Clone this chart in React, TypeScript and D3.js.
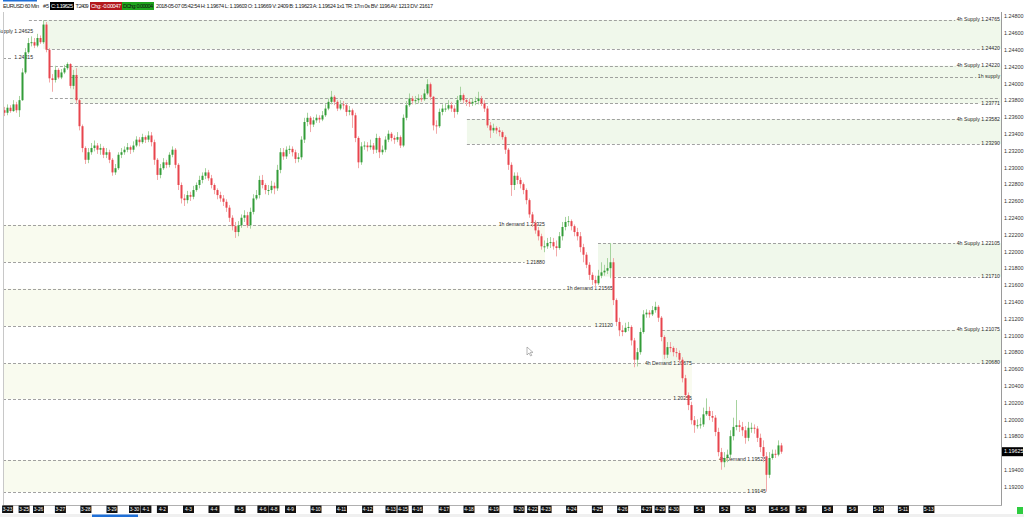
import React, { useEffect, useRef } from "react";
import * as d3 from "d3";

// ---------- DATA (EURUSD, 60 min, aggregated 3h candles) ----------
const firstOpen = 1.2369;
const closes = [
  1.2366, 1.2372, 1.2368, 1.2376, 1.2369, 1.2381, 1.2414, 1.2438, 1.2449, 1.2450,
  1.2446, 1.2455, 1.2450, 1.2471, 1.2441, 1.2407, 1.2405, 1.2417, 1.2408, 1.2414,
  1.2419, 1.2424, 1.2398, 1.2411, 1.2381, 1.2350, 1.2324, 1.2310, 1.2319, 1.2324,
  1.2327, 1.2322, 1.2324, 1.2316, 1.2319, 1.2310, 1.2295, 1.2300, 1.2316, 1.2319,
  1.2322, 1.2325, 1.2322, 1.2327, 1.2334, 1.2331, 1.2337, 1.2334, 1.2339, 1.2331,
  1.2310, 1.2292, 1.2300, 1.2307, 1.2304, 1.2316, 1.2322, 1.2304, 1.2280, 1.2264,
  1.2262, 1.2268, 1.2266, 1.2274, 1.2280, 1.2286, 1.2291, 1.2295, 1.2288, 1.2280,
  1.2274, 1.2268, 1.2264, 1.2260, 1.2253, 1.2241, 1.2231, 1.2224, 1.2232, 1.2241,
  1.2244, 1.2232, 1.2248, 1.2264, 1.2268, 1.2286, 1.2280, 1.2274, 1.2274, 1.2279,
  1.2276, 1.2298, 1.2319, 1.2314, 1.2322, 1.2323, 1.2319, 1.2311, 1.2313, 1.2334,
  1.2355, 1.2360, 1.2352, 1.2357, 1.2360, 1.2358, 1.2363, 1.2371, 1.2379, 1.2385,
  1.2379, 1.2371, 1.2376, 1.2375, 1.2367, 1.2369, 1.2363, 1.2336, 1.2307, 1.2326,
  1.2327, 1.2325, 1.2327, 1.2322, 1.2336, 1.2319, 1.2322, 1.2334, 1.2341, 1.2336,
  1.2334, 1.2337, 1.2327, 1.2360, 1.2375, 1.2383, 1.2380, 1.2381, 1.2383, 1.2382,
  1.2389, 1.2400, 1.2385, 1.2351, 1.2350, 1.2367, 1.2371, 1.2371, 1.2375, 1.2371,
  1.2367, 1.2381, 1.2387, 1.2381, 1.2379, 1.2377, 1.2379, 1.2380, 1.2383, 1.2377,
  1.2371, 1.2351, 1.2345, 1.2348, 1.2345, 1.2343, 1.2337, 1.2322, 1.2304, 1.2280,
  1.2291, 1.2286, 1.2281, 1.2274, 1.2262, 1.2245, 1.2235, 1.2226, 1.2219, 1.2207,
  1.2207, 1.2211, 1.2212, 1.2207, 1.2205, 1.2219, 1.2230, 1.2236, 1.2237, 1.2231,
  1.2224, 1.2219, 1.2206, 1.2197, 1.2185, 1.2173, 1.2167, 1.2163, 1.2172, 1.2176,
  1.2178, 1.2181, 1.2188, 1.2143, 1.2117, 1.2107, 1.2105, 1.2110, 1.2111, 1.2095,
  1.2072, 1.2081, 1.2105, 1.2126, 1.2128, 1.2126, 1.2131, 1.2135, 1.2122, 1.2099,
  1.2078, 1.2087, 1.2086, 1.2081, 1.2080, 1.2072, 1.2050, 1.2030, 1.2018, 1.2000,
  1.1994, 1.1994, 1.1995, 1.2007, 1.2011, 1.2005, 1.2003, 1.1986, 1.1962, 1.1950,
  1.1955, 1.1959, 1.1981, 1.1992, 1.1994, 1.1992, 1.1988, 1.1979, 1.1991, 1.1991,
  1.1990, 1.1979, 1.1968, 1.1957, 1.1935, 1.1955, 1.1960, 1.1959, 1.1970, 1.19625,
];
const highs = [
  1.2373, 1.2376, 1.2375, 1.2381, 1.2379, 1.2386, 1.2419, 1.2443, 1.2455, 1.2457,
  1.2455, 1.2460, 1.2458, 1.2476, 1.2474, 1.2443, 1.2412, 1.2422, 1.2419, 1.2418,
  1.2423, 1.2426, 1.2425, 1.2417, 1.2419, 1.2383, 1.2352, 1.2326, 1.2324, 1.2330,
  1.2333, 1.2330, 1.2329, 1.2326, 1.2324, 1.2322, 1.2312, 1.2305, 1.2319, 1.2324,
  1.2326, 1.2330, 1.2327, 1.2332, 1.2338, 1.2337, 1.2341, 1.2339, 1.2344, 1.2343,
  1.2334, 1.2312, 1.2305, 1.2312, 1.2310, 1.2319, 1.2326, 1.2324, 1.2306, 1.2283,
  1.2269, 1.2273, 1.2272, 1.2279, 1.2283, 1.2291, 1.2295, 1.2300, 1.2298, 1.2292,
  1.2282, 1.2276, 1.2272, 1.2268, 1.2263, 1.2256, 1.2244, 1.2236, 1.2237, 1.2245,
  1.2250, 1.2248, 1.2253, 1.2269, 1.2274, 1.2291, 1.2292, 1.2282, 1.2280, 1.2285,
  1.2283, 1.2304, 1.2324, 1.2324, 1.2326, 1.2327, 1.2326, 1.2322, 1.2318, 1.2338,
  1.2360, 1.2366, 1.2362, 1.2361, 1.2364, 1.2363, 1.2368, 1.2376, 1.2383, 1.2392,
  1.2387, 1.2381, 1.2381, 1.2380, 1.2377, 1.2374, 1.2371, 1.2366, 1.2338, 1.2331,
  1.2332, 1.2331, 1.2334, 1.2330, 1.2341, 1.2338, 1.2327, 1.2338, 1.2345, 1.2343,
  1.2339, 1.2343, 1.2339, 1.2364, 1.2380, 1.2389, 1.2386, 1.2386, 1.2388, 1.2387,
  1.2394, 1.2406, 1.2402, 1.2386, 1.2357, 1.2371, 1.2376, 1.2377, 1.2381, 1.2379,
  1.2375, 1.2386, 1.2397, 1.2389, 1.2383, 1.2383, 1.2383, 1.2385, 1.2391, 1.2386,
  1.2381, 1.2374, 1.2355, 1.2353, 1.2350, 1.2349, 1.2345, 1.2339, 1.2324, 1.2307,
  1.2295, 1.2295, 1.2289, 1.2283, 1.2276, 1.2264, 1.2248, 1.2238, 1.2230, 1.2222,
  1.2214, 1.2217, 1.2218, 1.2217, 1.2214, 1.2224, 1.2236, 1.2242, 1.2243, 1.2239,
  1.2233, 1.2229, 1.2224, 1.2210, 1.2200, 1.2188, 1.2176, 1.2172, 1.2179, 1.2188,
  1.2185, 1.2193, 1.2211, 1.2193, 1.2145, 1.2122, 1.2113, 1.2116, 1.2117, 1.2113,
  1.2098, 1.2086, 1.2110, 1.2131, 1.2132, 1.2131, 1.2136, 1.2141, 1.2137, 1.2124,
  1.2101, 1.2093, 1.2093, 1.2088, 1.2086, 1.2083, 1.2075, 1.2054, 1.2033, 1.2022,
  1.2005, 1.2001, 1.2003, 1.2015, 1.2026, 1.2016, 1.2011, 1.2006, 1.1991, 1.1967,
  1.1962, 1.1965, 1.1988, 1.2003, 1.2024, 1.2000, 1.1998, 1.1993, 1.1998, 1.1997,
  1.1995, 1.1993, 1.1984, 1.1976, 1.1962, 1.1962, 1.1965, 1.1965, 1.1976, 1.1973,
];
const lows = [
  1.2362, 1.2363, 1.2366, 1.2367, 1.2366, 1.2361, 1.2380, 1.2412, 1.2436, 1.2445,
  1.2443, 1.2444, 1.2448, 1.2448, 1.2438, 1.2402, 1.2391, 1.2402, 1.2406, 1.2406,
  1.2412, 1.2417, 1.2395, 1.2394, 1.2377, 1.2345, 1.2319, 1.2305, 1.2306, 1.2316,
  1.2320, 1.2317, 1.2316, 1.2312, 1.2312, 1.2306, 1.2291, 1.2292, 1.2298, 1.2312,
  1.2316, 1.2319, 1.2317, 1.2319, 1.2325, 1.2326, 1.2329, 1.2330, 1.2331, 1.2326,
  1.2304, 1.2286, 1.2288, 1.2298, 1.2300, 1.2301, 1.2313, 1.2300, 1.2274, 1.2258,
  1.2255, 1.2258, 1.2261, 1.2263, 1.2272, 1.2276, 1.2282, 1.2287, 1.2285, 1.2276,
  1.2269, 1.2263, 1.2260, 1.2255, 1.2248, 1.2236, 1.2226, 1.2217, 1.2219, 1.2229,
  1.2236, 1.2229, 1.2228, 1.2245, 1.2262, 1.2264, 1.2276, 1.2269, 1.2268, 1.2270,
  1.2269, 1.2273, 1.2294, 1.2310, 1.2311, 1.2317, 1.2314, 1.2306, 1.2307, 1.2310,
  1.2330, 1.2350, 1.2343, 1.2349, 1.2354, 1.2354, 1.2356, 1.2361, 1.2369, 1.2376,
  1.2375, 1.2368, 1.2369, 1.2370, 1.2362, 1.2363, 1.2348, 1.2331, 1.2300, 1.2304,
  1.2322, 1.2320, 1.2322, 1.2317, 1.2318, 1.2312, 1.2316, 1.2319, 1.2331, 1.2332,
  1.2329, 1.2331, 1.2324, 1.2325, 1.2357, 1.2373, 1.2376, 1.2376, 1.2377, 1.2379,
  1.2380, 1.2387, 1.2381, 1.2345, 1.2341, 1.2348, 1.2363, 1.2367, 1.2369, 1.2367,
  1.2360, 1.2364, 1.2379, 1.2377, 1.2374, 1.2373, 1.2374, 1.2375, 1.2376, 1.2374,
  1.2367, 1.2348, 1.2336, 1.2342, 1.2341, 1.2338, 1.2334, 1.2317, 1.2298, 1.2267,
  1.2274, 1.2281, 1.2276, 1.2269, 1.2257, 1.2241, 1.2230, 1.2222, 1.2214, 1.2203,
  1.2200, 1.2204, 1.2205, 1.2203, 1.2195, 1.2203, 1.2214, 1.2226, 1.2231, 1.2226,
  1.2219, 1.2214, 1.2200, 1.2188, 1.2181, 1.2167, 1.2161, 1.2157, 1.2161, 1.2169,
  1.2172, 1.2174, 1.2169, 1.2137, 1.2112, 1.2100, 1.2100, 1.2104, 1.2106, 1.2089,
  1.2063, 1.2064, 1.2078, 1.2103, 1.2122, 1.2122, 1.2124, 1.2128, 1.2117, 1.2094,
  1.2073, 1.2074, 1.2081, 1.2076, 1.2075, 1.2068, 1.2045, 1.2025, 1.2012, 1.1995,
  1.1985, 1.1990, 1.1990, 1.1992, 1.2005, 1.2000, 1.1998, 1.1981, 1.1957, 1.1941,
  1.1944, 1.1950, 1.1955, 1.1976, 1.1988, 1.1986, 1.1981, 1.1972, 1.1975, 1.1985,
  1.1984, 1.1974, 1.1962, 1.1950, 1.1915, 1.1931, 1.1953, 1.1955, 1.1957, 1.1960,
];

const priceTicks = [
  1.190, 1.192, 1.194, 1.196, 1.198, 1.200, 1.202, 1.204, 1.206, 1.208, 1.210,
  1.212, 1.214, 1.216, 1.218, 1.220, 1.222, 1.224, 1.226, 1.228, 1.230, 1.232,
  1.234, 1.236, 1.238, 1.240, 1.242, 1.244, 1.246, 1.248,
];
const lastPrice = 1.19625;

const dateLabels = [
  "3-23", "3-25", "3-26", "3-27", "3-28", "3-29", "3-30", "4-1", "4-2", "4-3", "4-4",
  "4-5", "4-6", "4-8", "4-9", "4-10", "4-11", "4-12", "4-13", "4-15", "4-16", "4-17",
  "4-18", "4-19", "4-20", "4-22", "4-23", "4-24", "4-25", "4-26", "4-27", "4-29",
  "4-30", "5-1", "5-2", "5-3", "5-4", "5-6", "5-7", "5-8", "5-9", "5-10", "5-11", "5-13",
];
const dateBars = [
  1.2, 6.7, 11.5, 18.8, 27.3, 36, 43.5, 47.3, 52.8, 61.5, 70, 78.7, 86.3, 90, 95.5,
  104, 112.5, 121.2, 129, 133, 137.8, 146.7, 155, 163.3, 171.7, 176.2, 180.7, 189.2,
  197.8, 206.2, 214.2, 218.7, 223.3, 231.8, 240.2, 248.8, 256.8, 260, 265.7, 274.5,
  282.8, 291.5, 299.8, 308.3,
];

// Supply levels drawn from their origin bar to the right edge
const rightLevelLabels = [
  "4h Supply 1.24765", "1.24420", "4h Supply 1.24220", "1h supply", "", "1.23771",
  "4h Supply 1.23582", "1.23290", "4h Supply 1.22105", "1.21710", "4h Supply 1.21075", "1.20680",
];
const rightLevelPrices = [
  1.24765, 1.2442, 1.2422, 1.24086, 1.2384, 1.23771, 1.23582, 1.2329, 1.22105, 1.2171, 1.21075, 1.2068,
];
const rightLevelStartBars = [8.3, 14.3, 15.3, 22, 15.3, 22, 154.3, 154.3, 198, 203, 219.3, 229.3];

// Levels coming from the left that end where price reached them
const leftLevelLabels = [
  "4h Supply 1.24625", "1.24315", "1h demand  1.22325", "1.21880", "1h demand  1.21565",
  "1.21120", "4h Demand  1.20675", "1.20255", "4h Demand  1.19525", "1.19145",
];
const leftLevelPrices = [1.24625, 1.24315, 1.22325, 1.2188, 1.21565, 1.2112, 1.20675, 1.20255, 1.19525, 1.19145];
const leftLevelEndBars = [9.7, 9.7, 180.3, 180.3, 203, 203, 229.3, 229.3, 254, 254];

const supplyZoneTops = [1.24765, 1.2422, 1.23582, 1.22105, 1.21075];
const supplyZoneBottoms = [1.2442, 1.23771, 1.2329, 1.2171, 1.2068];
const supplyZoneStartBars = [13, 22, 154.3, 198, 219.3];

const demandZoneTops = [1.22325, 1.21565, 1.20675, 1.19525];
const demandZoneBottoms = [1.2188, 1.2112, 1.20255, 1.19145];
const demandZoneEndBars = [180.3, 203, 229.3, 254];

const headerInfo =
  "2018-05-07 05:42:54  H: 1.19674  L: 1.19603  O: 1.19669  V: 2409  B: 1.19623  A: 1.19624  1x1  TR: 17m 0s  BV: 1196  AV: 1213  DV: 21617";

export default function App() {
  const ref = useRef<SVGSVGElement>(null);

  useEffect(() => {
    const root = d3.select(ref.current as SVGSVGElement);
    root.selectAll("*").remove();
    const W = 1024, H = 517;
    const L = 3, R = 1001, T = 12, B = 505;
    const FONT = "'Liberation Sans', Arial, sans-serif";

    const x = d3.scaleLinear().domain([0, closes.length - 1]).range([4, 781]);
    const y = d3.scaleLinear().domain([1.19, 1.248]).range([504.2, 17]);

    root.append("rect").attr("width", W).attr("height", H).attr("fill", "#ffffff");

    const defs = root.append("defs");
    defs.append("clipPath").attr("id", "plotclip")
      .append("rect").attr("x", 0).attr("y", T).attr("width", R).attr("height", B - T);

    const plot = root.append("g").attr("clip-path", "url(#plotclip)");

    // zones
    supplyZoneTops.forEach((top, i) => {
      const x0 = x(supplyZoneStartBars[i]);
      plot.append("rect")
        .attr("x", x0).attr("y", y(top))
        .attr("width", R - x0).attr("height", y(supplyZoneBottoms[i]) - y(top))
        .attr("fill", "#f0f8eb");
    });
    demandZoneTops.forEach((top, i) => {
      const x1 = x(demandZoneEndBars[i]);
      plot.append("rect")
        .attr("x", L).attr("y", y(top))
        .attr("width", x1 - L).attr("height", y(demandZoneBottoms[i]) - y(top))
        .attr("fill", "#f9fbef");
    });

    const addLabel = (label: string, xEnd: number, yy: number) => {
      if (!label) return 0;
      const t = plot.append("text")
        .attr("x", xEnd).attr("y", yy)
        .attr("text-anchor", "end").attr("dominant-baseline", "middle")
        .attr("font-family", FONT).attr("font-size", 5.2).attr("fill", "#2a2a2a")
        .text(label);
      return (t.node() as SVGTextElement).getComputedTextLength() + 1.5;
    };
    const addLine = (x0: number, x1: number, yy: number) => {
      if (x1 <= x0) return;
      plot.append("line")
        .attr("x1", x0).attr("x2", x1)
        .attr("y1", Math.round(yy) + 0.5).attr("y2", Math.round(yy) + 0.5)
        .attr("stroke", "#8a8a8a").attr("stroke-width", 0.8)
        .attr("stroke-dasharray", "3,2");
    };

    rightLevelPrices.forEach((p, i) => {
      const yy = y(p);
      const w = addLabel(rightLevelLabels[i], R - 1, yy);
      addLine(x(rightLevelStartBars[i]), R - 1 - w, yy);
    });
    leftLevelPrices.forEach((p, i) => {
      const yy = y(p);
      const xe = x(leftLevelEndBars[i]);
      const w = addLabel(leftLevelLabels[i], xe, yy);
      addLine(L, xe - w, yy);
    });

    // candles
    const candles = plot.append("g");
    closes.forEach((c, i) => {
      const o = i === 0 ? firstOpen : closes[i - 1];
      const up = c >= o;
      const cx = Math.round(x(i));
      candles.append("line")
        .attr("x1", cx + 0.5).attr("x2", cx + 0.5)
        .attr("y1", y(highs[i])).attr("y2", y(lows[i]))
        .attr("stroke", up ? "#a6d39e" : "#f2a9a9").attr("stroke-width", 1);
      const y0 = y(Math.max(o, c));
      const h = Math.max(1, Math.abs(y(o) - y(c)));
      candles.append("rect")
        .attr("x", cx - 0.5).attr("y", y0)
        .attr("width", 2).attr("height", h)
        .attr("fill", up ? "#329c38" : "#e8444d");
    });

    // mouse cursor left on the chart
    const cx0 = 527, cy0 = 347;
    root.append("path")
      .attr("d", `M${cx0},${cy0} l0,8 l2,-2 l1.6,3 l1.2,-0.6 l-1.6,-3 l2.8,0 z`)
      .attr("fill", "#fff").attr("stroke", "#888").attr("stroke-width", 0.6);

    // plot frame
    root.append("line").attr("x1", L + 0.5).attr("x2", L + 0.5).attr("y1", T).attr("y2", B)
      .attr("stroke", "#c8c8c8");
    root.append("line").attr("x1", R + 0.5).attr("x2", R + 0.5).attr("y1", T).attr("y2", B)
      .attr("stroke", "#9a9a9a");
    root.append("line").attr("x1", L).attr("x2", R + 1).attr("y1", B + 0.5).attr("y2", B + 0.5)
      .attr("stroke", "#b0b0b0");

    // right price axis
    const fmt = d3.format(".5f");
    const axisG = root.append("g");
    const ly = y(lastPrice);
    priceTicks.forEach((t) => {
      const yy = y(t);
      if (yy > B - 1) return;
      if (Math.abs(yy - ly) < 7) return;
      axisG.append("text")
        .attr("x", 1004).attr("y", yy)
        .attr("dominant-baseline", "middle")
        .attr("font-family", FONT).attr("font-size", 5.4).attr("fill", "#333")
        .text(fmt(t));
    });
    axisG.append("rect").attr("x", 1002).attr("y", ly - 4.5).attr("width", 21).attr("height", 9).attr("fill", "#000");
    axisG.append("text")
      .attr("x", 1004).attr("y", ly).attr("dominant-baseline", "middle")
      .attr("font-family", FONT).attr("font-size", 5.4).attr("fill", "#fff")
      .text(fmt(lastPrice));

    // date axis
    const dateG = root.append("g");
    dateLabels.forEach((d, i) => {
      const cx = x(dateBars[i]);
      dateG.append("rect").attr("x", cx - 5.5).attr("y", 505.5).attr("width", 11).attr("height", 7.5).attr("fill", "#111");
      dateG.append("text")
        .attr("x", cx).attr("y", 509.5).attr("text-anchor", "middle").attr("dominant-baseline", "middle")
        .attr("font-family", FONT).attr("font-size", 4.8).attr("fill", "#fff")
        .text(d);
    });
    root.append("rect").attr("x", 0).attr("y", 514).attr("width", W).attr("height", 3).attr("fill", "#f0f0f0");
    root.append("rect").attr("x", 92).attr("y", 514.5).attr("width", 46).attr("height", 2.5).attr("fill", "#1f6fd6");
    root.append("rect").attr("x", 1017).attr("y", 507).attr("width", 6).attr("height", 7).attr("fill", "#2ecc40");

    // header
    const hdr = root.append("g").attr("font-family", FONT).attr("font-size", 5.6);
    root.append("rect").attr("x", 3).attr("y", 0).attr("width", 34).attr("height", 1.5).attr("fill", "#1f6fd6");
    hdr.append("text").attr("x", 3).attr("y", 8).attr("fill", "#222").attr("textLength", 36).text("EURUSD  60 Min");
    hdr.append("text").attr("x", 43).attr("y", 8).attr("fill", "#222").text("#5");
    hdr.append("rect").attr("x", 50).attr("y", 2).attr("width", 24).attr("height", 8).attr("fill", "#000");
    hdr.append("text").attr("x", 51).attr("y", 8).attr("fill", "#fff").attr("textLength", 22).text("C: 1.19625");
    hdr.append("text").attr("x", 75.5).attr("y", 8).attr("fill", "#222").attr("textLength", 13).text("T: 2409");
    hdr.append("rect").attr("x", 90).attr("y", 2).attr("width", 32).attr("height", 8).attr("fill", "#b3181c");
    hdr.append("text").attr("x", 91).attr("y", 8).attr("fill", "#fff").attr("textLength", 30).text("Chg: -0.00047");
    hdr.append("rect").attr("x", 122).attr("y", 2).attr("width", 32).attr("height", 8).attr("fill", "#1ea51e");
    hdr.append("text").attr("x", 123).attr("y", 8).attr("fill", "#111").attr("textLength", 30).text("DChg: 0.00004");
    hdr.append("text").attr("x", 156).attr("y", 8).attr("fill", "#222").attr("textLength", 277).text(headerInfo);
  }, []);

  return (
    <svg
      ref={ref}
      width={1024}
      height={517}
      style={{ position: "absolute", left: 0, top: 0, display: "block" }}
    />
  );
}
